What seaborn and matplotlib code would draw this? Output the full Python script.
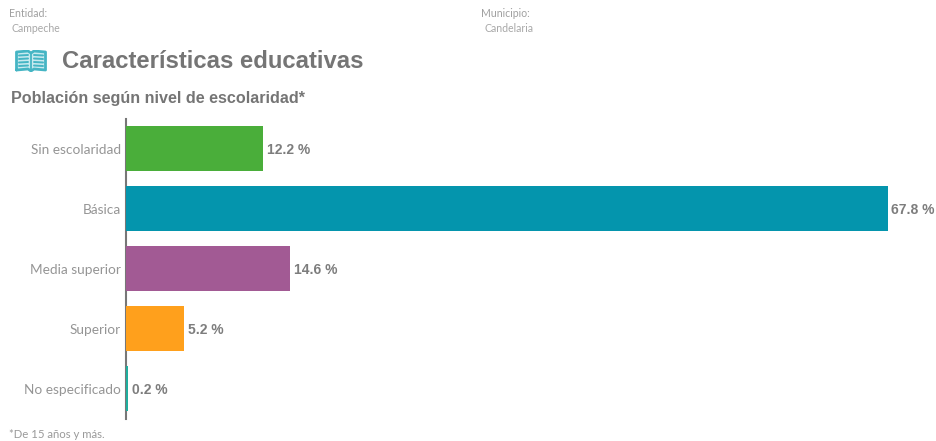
import pandas as pd
import seaborn as sns
import matplotlib.pyplot as plt

W, H = 936, 441

niveles = ['Sin escolaridad', 'Básica', 'Media superior', 'Superior', 'No especificado']
porcentajes = [12.2, 67.8, 14.6, 5.2, 0.2]
colores = ['#4aae3a', '#0495ad', '#a25a94', '#ffa01c', '#1fae9e']

sns.set_theme(style='white')
plt.rcParams['font.family'] = ['Lato', 'DejaVu Sans']

df = pd.DataFrame({'nivel': niveles, 'pct': porcentajes})

fig = plt.figure(figsize=(W / 100, H / 100), dpi=100)
ax = fig.add_axes([126 / W, 1 - 418.5 / H, 762 / 67.8 * 70 / W, 300 / H])

sns.barplot(data=df, x='pct', y='nivel', hue='nivel', palette=colores,
            width=0.75, legend=False, saturation=1, linewidth=0, ax=ax)

ax.set_xlim(0, 70)
ax.set_ylim(4.5, -0.5)
ax.set_xlabel('')
ax.set_ylabel('')
ax.xaxis.set_visible(False)
sns.despine(ax=ax, left=False, bottom=True)
# el eje va por debajo de las barras
ax.set_axisbelow(True)
ax.spines['left'].set_color('#777777')
ax.spines['left'].set_linewidth(1.5)
ax.spines['left'].set_zorder(0.5)
ax.tick_params(axis='y', length=0, pad=3.5, labelsize=9.8, labelcolor='#959595')

# etiquetas de valor
for i, v in enumerate(porcentajes):
    ax.annotate(f'{v} %', (v, i), xytext=(2.5, -1), textcoords='offset points',
                va='center', ha='left', fontsize=10, fontweight='bold',
                color='#7d7d7d', family=['Liberation Sans', 'DejaVu Sans'])


def texto(x, y, s, **kw):
    fig.text(x / W, 1 - y / H, s, va='center', ha='left', **kw)


texto(9, 13.5, 'Entidad:', fontsize=7.6, color='#a0a0a0')
texto(11, 29, 'Campeche', fontsize=7.6, color='#a8a8a8')
texto(481, 13.5, 'Municipio:', fontsize=7.6, color='#a0a0a0')
texto(484, 29, 'Candelaria', fontsize=7.6, color='#a8a8a8')
texto(62, 62, 'Características educativas', fontsize=17.2, fontweight='bold',
      color='#757575', family=['Liberation Sans', 'DejaVu Sans'])
texto(11, 98, 'Población según nivel de escolaridad*', fontsize=11.6, fontweight='bold',
      color='#757575', family=['Liberation Sans', 'DejaVu Sans'])
texto(9, 434, '*De 15 años y más.', fontsize=8.2, color='#9a9a9a')

# icono del libro
book = fig.add_axes([15 / W, 1 - 72 / H, 32 / W, 22 / H])
book.set_xlim(0, 32)
book.set_ylim(22, 0)
book.axis('off')
teal = '#45b5c4'
book.fill([1, 1, 13, 16, 19, 31, 31, 19, 16, 13],
          [20, 2, 1, 3, 1, 2, 20, 19, 21, 19], color='#c9eaef', lw=0)
book.plot([1.5, 1.5, 13, 16, 19, 30.5, 30.5, 19, 16, 13, 1.5],
          [20, 2, 1, 3, 1, 2, 20, 19, 21, 19, 20], color=teal, lw=2)
book.plot([16, 16], [3, 21], color=teal, lw=1.3)
for yy in [5.5, 9, 12.5, 16]:
    book.plot([4, 13], [yy, yy - 0.5], color=teal, lw=1.4)
    book.plot([19, 28], [yy - 0.5, yy], color=teal, lw=1.4)

fig.savefig('out.png', dpi=100)
